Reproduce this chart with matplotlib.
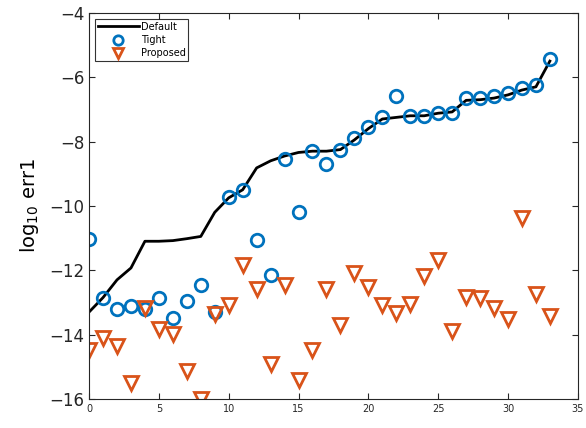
import numpy as np
import matplotlib.pyplot as plt

x = np.arange(34)

default = [-13.3, -12.85, -12.3, -11.93, -11.1, -11.1, -11.08, -11.02, -10.95, -10.2,
           -9.75, -9.5, -8.82, -8.6, -8.45, -8.34, -8.3, -8.3, -8.25, -7.95,
           -7.6, -7.3, -7.25, -7.2, -7.2, -7.12, -7.08, -6.72, -6.7, -6.65,
           -6.55, -6.4, -6.3, -5.5]
tight = [-11.02, -12.85, -13.2, -13.1, -13.2, -12.85, -13.5, -12.97, -12.45, -13.3,
         -9.72, -9.5, -11.05, -12.15, -8.55, -10.2, -8.3, -8.7, -8.25, -7.9,
         -7.55, -7.25, -6.6, -7.2, -7.2, -7.1, -7.1, -6.65, -6.65, -6.6,
         -6.5, -6.35, -6.25, -5.45]
proposed = [-14.47, -14.1, -14.36, -15.5, -13.17, -13.82, -13.97, -15.14, -15.99, -13.35,
            -13.07, -11.83, -12.58, -14.93, -12.45, -15.4, -14.49, -12.57, -13.69, -12.08,
            -12.53, -13.07, -13.33, -13.04, -12.17, -11.69, -13.9, -12.84, -12.86, -13.17,
            -13.53, -10.38, -12.74, -13.43]

fig = plt.figure(figsize=(5.86, 4.28), dpi=100)
ax = fig.add_axes([0.152, 0.068, 0.834, 0.902])

ax.plot(x, default, color='black', lw=2, label='Default')
ax.plot(x, tight, 'o', ls='none', ms=9, mfc='none', mec='#0072BD', mew=2, label='Tight')
ax.plot(x, proposed, 'v', ls='none', ms=10, mfc='none', mec='#D95319', mew=2, label='Proposed')

ax.set_xlim(0, 35)
ax.set_ylim(-16, -4)
ax.set_xticks(np.arange(0, 36, 5))
ax.set_yticks(np.arange(-16, -3, 2))
ax.tick_params(axis='x', labelsize=7, direction='in', length=4, colors='#262626')
ax.tick_params(axis='y', labelsize=12, direction='in', length=4, colors='#262626')
ax.tick_params(top=True, right=True)
for s in ax.spines.values():
    s.set_color('#262626')
    s.set_linewidth(0.8)
ax.set_ylabel('log$_{10}$ err1', fontsize=14, labelpad=6)

leg = ax.legend(loc='upper left', fontsize=7, frameon=True, fancybox=False,
                edgecolor='black', borderpad=0.3, handlelength=4.2,
                labelspacing=0.35, handletextpad=0.2, borderaxespad=0.6,
                markerscale=0.75)
leg.get_frame().set_linewidth(0.8)

fig.savefig('out.png', dpi=100)
